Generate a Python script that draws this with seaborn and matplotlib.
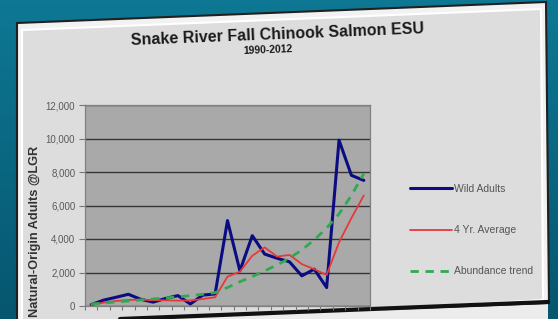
import numpy as np
import pandas as pd
import matplotlib
matplotlib.use("Agg")
import matplotlib.pyplot as plt
import seaborn as sns
from matplotlib.patches import Polygon

# ---- data ----
years = list(range(1990, 2013))
wild_adults = [80, 350, 520, 700, 400, 230, 450, 620, 120, 650, 720,
               5100, 2100, 4200, 3100, 2850, 2640, 1800, 2200, 1100,
               9900, 7800, 7500]
four_yr_avg = [60, 200, 300, 360, 380, 350, 340, 320, 330, 420, 520,
               1750, 2050, 3000, 3500, 2950, 3050, 2500, 2200, 1850,
               3800, 5250, 6600]
abundance_trend = [120, 180, 240, 300, 360, 420, 480, 550, 620, 700, 800,
                   1100, 1450, 1750, 2100, 2450, 2850, 3350, 3950, 4650,
                   5500, 6600, 7900]
y_ticks = [0, 2000, 4000, 6000, 8000, 10000, 12000]

series_names = ["Wild Adults", "4 Yr. Average", "Abundance trend"]

df = pd.DataFrame({"Year": years,
                   "Wild Adults": wild_adults,
                   "4 Yr. Average": four_yr_avg,
                   "Abundance trend": abundance_trend})

sns.set_style("white")
plt.rcParams["font.family"] = ["Liberation Sans", "DejaVu Sans"]

W, H = 558, 319
fig = plt.figure(figsize=(W / 100, H / 100), dpi=100)
fig.patch.set_facecolor("#0b6a86")

# ---- background: teal + tilted slide panel ----
bg = fig.add_axes([0, 0, 1, 1], zorder=-5)
bg.set_xlim(0, W)
bg.set_ylim(H, 0)
bg.axis("off")
grad = np.linspace(0, 1, 100).reshape(-1, 1)
bg.imshow(grad, extent=[0, W, H, 0], aspect="auto",
          cmap=matplotlib.colors.LinearSegmentedColormap.from_list(
              "teal", ["#0e7894", "#06566f"]))
bg.add_patch(Polygon([(17, 23), (546, 2), (549, 303), (17, 330)],
                     closed=True, facecolor="#f2f2f2", edgecolor="#202020", lw=1.5))
bg.add_patch(Polygon([(22, 30), (541, 9), (543, 300), (22, 330)],
                     closed=True, facecolor="#dddddd", edgecolor="#ffffff", lw=1.5))
bg.plot([120, 548], [319, 302], color="#111111", lw=3)
bg.add_patch(Polygon([(150, 319), (548, 304), (548, 319)],
                     closed=True, facecolor="#ececec", edgecolor="none"))

# ---- plot area ----
ax = fig.add_axes([85 / W, 1 - 306 / H, 285 / W, 201 / H])
ax.set_facecolor("#a9a9a9")

styles = {
    "Wild Adults": dict(color="#0c0c82", lw=2.2),
    "4 Yr. Average": dict(color="#e8393a", lw=1.3),
    "Abundance trend": dict(color="#2faa50", lw=2.0, dashes=(3, 2.4)),
}
handles = []
for name in series_names:
    st = dict(styles[name])
    dashes = st.pop("dashes", None)
    sns.lineplot(data=df, x="Year", y=name, ax=ax, label=name, **st)
    line = ax.get_lines()[-1]
    if dashes:
        line.set_dashes(dashes)
    handles.append(line)
ax.get_legend().remove()

ax.set_xlim(1989.5, 2012.5)
ax.set_ylim(0, 12000)
ax.set_yticks(y_ticks)
ax.set_yticklabels([f"{v:,}" for v in y_ticks], color="#5a5a5a", fontsize=7)
ax.yaxis.grid(True, color="#353535", lw=1.0)
ax.set_axisbelow(True)
ax.tick_params(axis="y", length=4, color="#777777", pad=3, left=True)

# category boundary tick marks (year labels fall below the visible area)
ax.set_xticks(np.arange(1989.5, 2013, 1))
ax.set_xticklabels([])
ax.tick_params(axis="x", which="major", length=3, color="#777777", bottom=True)
for s in ax.spines.values():
    s.set_color("#808080")
    s.set_linewidth(0.9)
ax.set_xlabel("")
ax.set_ylabel("")

# ---- texts ----
fig.text(277 / W, 1 - 35 / H, "Snake River Fall Chinook Salmon ESU",
         ha="center", va="center", fontsize=11.5, fontweight="bold",
         color="#1a1a1a", rotation=2.3)
fig.text(268 / W, 1 - 50 / H, "1990-2012", ha="center", va="center",
         fontsize=7.5, fontweight="bold", color="#1a1a1a", rotation=2.3)
fig.text(35 / W, 1 - 146 / H, "Natural-Origin Adults @LGR", rotation=90,
         ha="center", va="top", fontsize=9.2, fontweight="bold", color="#333333")

fig.legend(handles, series_names, loc="upper left",
           bbox_to_anchor=(410 / W, 1 - 184 / H), frameon=False,
           borderpad=0, borderaxespad=0,
           fontsize=7.5, handlelength=4.0, handletextpad=0.25,
           labelspacing=3.0, labelcolor="#555555")

fig.savefig("out.png", dpi=100, facecolor=fig.get_facecolor())
